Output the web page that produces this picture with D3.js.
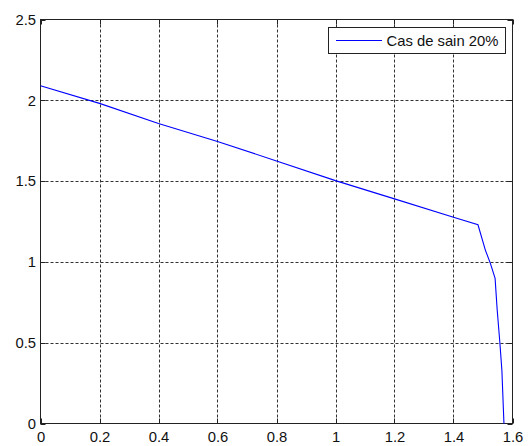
<!DOCTYPE html>
<html><head><meta charset="utf-8">
<script src="https://cdn.jsdelivr.net/npm/d3@7"></script>
<style>html,body{margin:0;padding:0;background:#fff;}svg{display:block;}</style>
</head><body>
<script>
const xs = [0, 0.2, 0.4, 0.6, 0.8, 1.0, 1.2, 1.4, 1.483, 1.508, 1.525, 1.541, 1.548, 1.557, 1.564, 1.571];
const ys = [2.09, 1.981, 1.857, 1.745, 1.625, 1.503, 1.39, 1.276, 1.23, 1.073, 0.991, 0.898, 0.705, 0.504, 0.329, 0];
const seriesName = "Cas de sain 20%";
const xTicks = [0, 0.2, 0.4, 0.6, 0.8, 1, 1.2, 1.4, 1.6];
const yTicks = [0, 0.5, 1, 1.5, 2, 2.5];

const W = 531, H = 446;
const L = 40.5, R = 512.5, T = 19.5, B = 423.5;
const svg = d3.select("body").append("svg").attr("width", W).attr("height", H);
svg.append("rect").attr("width", W).attr("height", H).attr("fill", "#fff");
const x = d3.scaleLinear().domain([0, 1.6]).range([L, R]);
const y = d3.scaleLinear().domain([0, 2.5]).range([B, T]);
const font = "Liberation Sans, Arial, sans-serif";
const fs = 14.8;

// grid
const g = svg.append("g");
g.selectAll(".vg").data(xTicks.slice(1, -1)).enter().append("line")
  .attr("x1", d => Math.round(x(d)) + 0.5).attr("x2", d => Math.round(x(d)) + 0.5)
  .attr("y1", T).attr("y2", B)
  .attr("stroke", "#333").attr("stroke-width", 1).attr("stroke-dasharray", "3,2");
g.selectAll(".hg").data(yTicks.slice(1, -1)).enter().append("line")
  .attr("y1", d => Math.round(y(d)) + 0.5).attr("y2", d => Math.round(y(d)) + 0.5)
  .attr("x1", L).attr("x2", R)
  .attr("stroke", "#333").attr("stroke-width", 1).attr("stroke-dasharray", "3,2");

// axes via d3
const xAxisB = d3.axisBottom(x).tickValues(xTicks).tickSize(0).tickPadding(7.5).tickFormat(d3.format("~g"));
const yAxisL = d3.axisLeft(y).tickValues(yTicks).tickSize(0).tickPadding(4.5).tickFormat(d3.format("~g"));
const ax = svg.append("g").attr("transform", `translate(0,${B})`).call(xAxisB);
const ay = svg.append("g").attr("transform", `translate(${L},0)`).call(yAxisL);
[ax, ay].forEach(a => {
  a.select(".domain").remove();
  a.selectAll("text").attr("font-family", font).attr("font-size", fs).attr("fill", "#111");
});

// inner ticks on all sides
const tk = 5;
svg.append("g").selectAll("line").data(xTicks).enter().append("line")
  .attr("x1", d => Math.round(x(d)) + 0.5).attr("x2", d => Math.round(x(d)) + 0.5)
  .attr("y1", B).attr("y2", B - tk).attr("stroke", "#222");
svg.append("g").selectAll("line").data(xTicks).enter().append("line")
  .attr("x1", d => Math.round(x(d)) + 0.5).attr("x2", d => Math.round(x(d)) + 0.5)
  .attr("y1", T).attr("y2", T + tk).attr("stroke", "#222");
svg.append("g").selectAll("line").data(yTicks).enter().append("line")
  .attr("y1", d => Math.round(y(d)) + 0.5).attr("y2", d => Math.round(y(d)) + 0.5)
  .attr("x1", L).attr("x2", L + tk).attr("stroke", "#222");
svg.append("g").selectAll("line").data(yTicks).enter().append("line")
  .attr("y1", d => Math.round(y(d)) + 0.5).attr("y2", d => Math.round(y(d)) + 0.5)
  .attr("x1", R).attr("x2", R - tk).attr("stroke", "#222");

// box
svg.append("rect").attr("x", L).attr("y", T).attr("width", R - L).attr("height", B - T)
  .attr("fill", "none").attr("stroke", "#222").attr("stroke-width", 1);

// data line
const pts = xs.map((v, i) => [v, ys[i]]);
svg.append("path").datum(pts)
  .attr("d", d3.line().x(d => x(d[0])).y(d => y(d[1])))
  .attr("fill", "none").attr("stroke", "#0000ff").attr("stroke-width", 1.1);

// legend
const lg = svg.append("g");
lg.append("rect").attr("x", 328.5).attr("y", 27.5).attr("width", 177).attr("height", 26)
  .attr("fill", "#fff").attr("stroke", "#222");
lg.append("line").attr("x1", 336).attr("x2", 382).attr("y1", 40.5).attr("y2", 40.5)
  .attr("stroke", "#0000ff").attr("stroke-width", 1.1);
lg.append("text").attr("x", 386.5).attr("y", 45.8).text(seriesName)
  .attr("font-family", font).attr("font-size", fs).attr("fill", "#111");
</script>
</body></html>
